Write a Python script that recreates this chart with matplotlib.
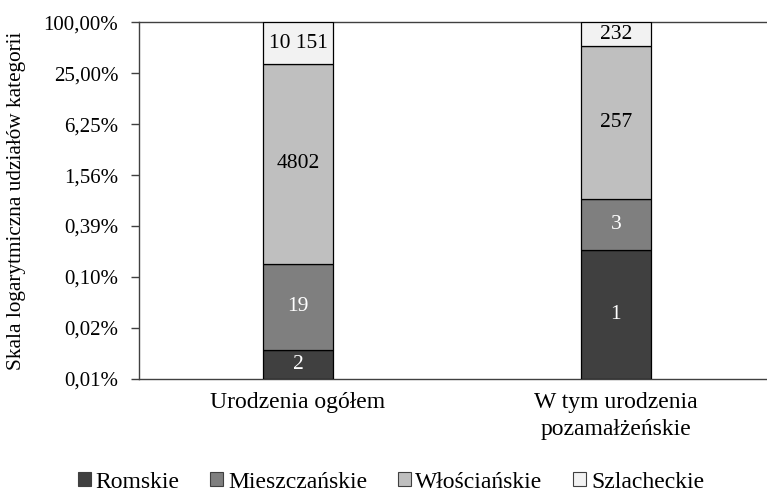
import matplotlib
matplotlib.use("Agg")
import matplotlib.pyplot as plt
from matplotlib.patches import Patch
from matplotlib.ticker import FixedLocator, FuncFormatter, NullLocator
import numpy as np

plt.rcParams['font.family'] = ['Liberation Serif', 'DejaVu Serif']

categories = ["Urodzenia ogółem", "W tym urodzenia\npozamałżeńskie"]
series_names = ["Romskie", "Mieszczańskie", "Włościańskie", "Szlacheckie"]
romskie = [2, 1]
mieszczanskie = [19, 3]
wloscianskie = [4802, 257]
szlacheckie = [10151, 232]
colors = ["#404040", "#7f7f7f", "#bfbfbf", "#f2f2f2"]
text_colors = ["white", "white", "black", "black"]
tick_values = [100 / 4 ** k for k in range(7, -1, -1)]

series = [romskie, mieszczanskie, wloscianskie, szlacheckie]
counts = np.array(series, dtype=float)
totals = counts.sum(axis=0)
cum = np.cumsum(counts, axis=0) / totals * 100.0

ymin = tick_values[0]
ymax = tick_values[-1]

fig = plt.figure(figsize=(7.67, 4.94), dpi=100)
W, H = 767, 494
ax = fig.add_axes([139 / W, 1 - 378.5 / H, (767 - 139) / W, (378.5 - 22.5) / H])

x = np.arange(len(categories))
width = 0.22


def fmt_count(n):
    n = int(n)
    if n >= 10000:
        return f"{n:,}".replace(",", " ")
    return str(n)


for i, name in enumerate(series_names):
    bottoms = np.full(len(categories), ymin) if i == 0 else cum[i - 1]
    tops = cum[i]
    ax.bar(x, tops - bottoms, bottom=bottoms, width=width, color=colors[i],
           edgecolor="black", linewidth=0.9, label=name, zorder=3)
    for j in range(len(categories)):
        mid = np.sqrt(bottoms[j] * tops[j])
        ax.text(x[j], mid, fmt_count(series[i][j]), ha="center", va="center",
                color=text_colors[i], fontsize=15.5, zorder=4)

ax.set_yscale("log", base=4)
ax.set_ylim(ymin, ymax)
ax.yaxis.set_major_locator(FixedLocator(tick_values))
ax.yaxis.set_minor_locator(NullLocator())
ax.yaxis.set_major_formatter(FuncFormatter(lambda v, p: f"{v:.2f}%".replace(".", ",")))
ax.set_xlim(-0.5, 1.475)
ax.set_xticks(x)
ax.set_xticklabels(categories, fontsize=17, linespacing=1.35)
ax.tick_params(axis="x", length=0, pad=10)
ax.tick_params(axis="y", length=6, width=1, labelsize=15, pad=9, color="#404040")

ax.spines["right"].set_visible(False)
for s in ["left", "bottom", "top"]:
    ax.spines[s].set_color("#404040")
    ax.spines[s].set_linewidth(1)

ax.set_ylabel("Skala logarytmiczna udziałów kategorii", fontsize=15.3)
ax.yaxis.set_label_coords(-(139 - 17) / 628, 0.5)
ax.yaxis.label.set_va("center")

handles = [Patch(facecolor=colors[i], edgecolor="#404040", linewidth=0.8) for i in range(4)]
fig.legend(handles, series_names, loc="center", bbox_to_anchor=(391 / W, 1 - 482 / H),
           ncol=4, frameon=False, fontsize=17, handlelength=0.55, handleheight=0.55,
           handletextpad=0.2, columnspacing=1.3, borderaxespad=0, borderpad=0)

fig.savefig("out.png", dpi=100)
